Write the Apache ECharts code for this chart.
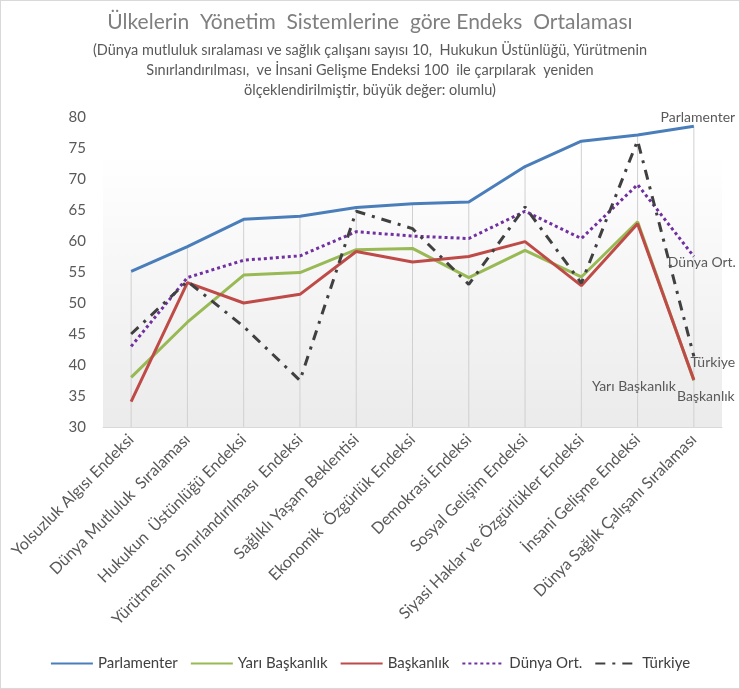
<!DOCTYPE html>
<html lang="tr">
<head>
    <meta charset="UTF-8"/>
    <title>Endeks Ortalaması</title>
    <script src="https://cdn.jsdelivr.net/npm/echarts@6.0.0/dist/echarts.min.js"></script>
    <style>
        html, body { margin: 0; padding: 0; background: #fff; }
        #main { width: 740px; height: 689px; box-sizing: border-box; border: 1px solid #d9d9d9; }
    </style>
</head>
<body>
<div id="main"></div>
<script type="text/javascript">
    // kategoriler ve seriler
    var kategoriler = ['Yolsuzluk Algısı Endeksi', 'Dünya Mutluluk  Sıralaması', 'Hukukun  Üstünlüğü Endeksi',
        'Yürütmenin  Sınırlandırılması  Endeksi', 'Sağlıklı Yaşam Beklentisi', 'Ekonomik  Özgürlük Endeksi',
        'Demokrasi Endeksi', 'Sosyal Gelişim Endeksi', 'Siyasi Haklar ve Özgürlükler Endeksi',
        'İnsani Gelişme Endeksi', 'Dünya Sağlık Çalışanı Sıralaması'];
    var parlamenter = [55.1, 59.1, 63.5, 64.0, 65.4, 66.0, 66.3, 72.0, 76.1, 77.1, 78.5];
    var yariBaskanlik = [38.0, 46.9, 54.5, 54.9, 58.6, 58.8, 54.1, 58.5, 54.2, 63.1, 37.5];
    var baskanlik = [34.1, 53.3, 50.0, 51.4, 58.3, 56.6, 57.5, 59.9, 52.8, 62.8, 37.6];
    var dunyaOrt = [43.0, 54.1, 56.9, 57.6, 61.5, 60.8, 60.4, 64.8, 60.4, 69.1, 57.5];
    var turkiye = [45.0, 53.5, 46.2, 37.5, 64.8, 62.0, 53.0, 65.5, 53.2, 76.2, 41.4];
    var yEtiketleri = [30, 35, 40, 45, 50, 55, 60, 65, 70, 75, 80];

    var yazi = 'Lato, "Open Sans", sans-serif';

    function cizgi(ad, degerler, renk, tip, ofset) {
        return {
            name: ad,
            type: 'line',
            symbol: 'none',
            data: degerler,
            lineStyle: { color: renk, width: 3, type: tip },
            itemStyle: { color: renk },
            // seri adı son noktanın yanında
            endLabel: {
                show: true, formatter: ad, distance: 0, offset: ofset,
                align: 'center', verticalAlign: 'middle',
                fontFamily: yazi, fontSize: 14, color: '#595959'
            },
            z: 3
        };
    }

    var myChart = echarts.init(document.getElementById('main'));
    myChart.setOption({
        animation: false,
        textStyle: { fontFamily: yazi },
        title: [{
            text: 'Ülkelerin  Yönetim  Sistemlerine  göre Endeks  Ortalaması',
            left: 'center', top: 6,
            textStyle: { fontFamily: yazi, fontSize: 21, fontWeight: 'normal', color: '#7f7f7f' }
        }, {
            text: '(Dünya mutluluk sıralaması ve sağlık çalışanı sayısı 10,  Hukukun Üstünlüğü, Yürütmenin\n' +
                'Sınırlandırılması,  ve İnsani Gelişme Endeksi 100  ile çarpılarak  yeniden\n' +
                'ölçeklendirilmiştir, büyük değer: olumlu)',
            left: 'center', top: 34,
            textStyle: { fontFamily: yazi, fontSize: 14.5, fontWeight: 'normal', color: '#595959', lineHeight: 20, align: 'center' }
        }],
        legend: {
            data: ['Parlamenter', 'Yarı Başkanlık', 'Başkanlık', 'Dünya Ort.', 'Türkiye'],
            bottom: 12, left: 'center',
            itemWidth: 42, itemHeight: 12, itemGap: 12,
            itemStyle: { opacity: 0 },
            textStyle: { fontFamily: yazi, fontSize: 15, color: '#404040' }
        },
        grid: {
            left: 102, right: 17, top: 116, bottom: 261,
            show: true, borderWidth: 0,
            backgroundColor: new echarts.graphic.LinearGradient(0, 0, 0, 1, [
                { offset: 0, color: '#ffffff' },
                { offset: 0.12, color: '#ffffff' },
                { offset: 1, color: '#ebebeb' }
            ])
        },
        xAxis: {
            type: 'category',
            data: kategoriler,
            boundaryGap: true,
            axisLine: { lineStyle: { color: '#d9d9d9' } },
            axisTick: { show: false },
            splitLine: { show: false },
            axisLabel: { interval: 0, rotate: 45, margin: 10, fontFamily: yazi, fontSize: 16, color: '#595959' }
        },
        yAxis: {
            type: 'value',
            min: yEtiketleri[0], max: yEtiketleri[yEtiketleri.length - 1], interval: 5,
            axisLine: { show: false },
            axisTick: { show: false },
            splitLine: { show: false },
            axisLabel: { margin: 17, fontFamily: yazi, fontSize: 15, color: '#595959' }
        },
        series: [
            {
                // en üst seriden eksene inen dikey çizgiler
                name: 'dusey',
                type: 'bar',
                data: parlamenter,
                barWidth: 1,
                itemStyle: { color: '#d0d0d0' },
                silent: true,
                z: 1
            },
            cizgi('Parlamenter', parlamenter, '#4a7ebb', 'solid', [4, -9]),
            cizgi('Yarı Başkanlık', yariBaskanlik, '#98b954', 'solid', [-60, 6]),
            cizgi('Başkanlık', baskanlik, '#be4b48', 'solid', [12, 17]),
            cizgi('Dünya Ort.', dunyaOrt, '#7030a0', [3, 3], [8, 6]),
            cizgi('Türkiye', turkiye, '#404040', [10, 7, 3, 7], [19, 6])
        ]
    });
</script>
</body>
</html>
